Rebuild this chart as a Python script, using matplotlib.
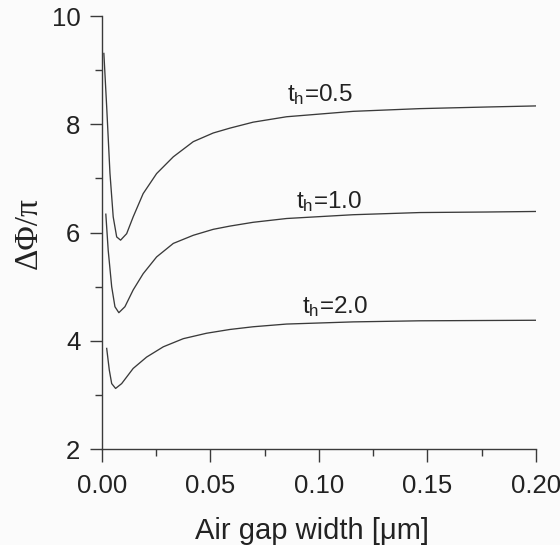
import numpy as np
import matplotlib.pyplot as plt
from matplotlib.ticker import MultipleLocator

plt.rcParams['font.family'] = ['Liberation Sans', 'DejaVu Sans']
plt.rcParams['mathtext.fontset'] = 'custom'
plt.rcParams['mathtext.rm'] = 'Liberation Sans'
plt.rcParams['mathtext.it'] = 'Liberation Sans'
plt.rcParams['xtick.direction'] = 'out'
plt.rcParams['ytick.direction'] = 'out'

# curve t_h = 0.5
x05 = [0.0009, 0.0022, 0.0037, 0.0052, 0.0068, 0.0086, 0.0114, 0.0144, 0.0190,
       0.0252, 0.0329, 0.0421, 0.0513, 0.0590, 0.0697, 0.0851, 0.1158, 0.1465,
       0.1773, 0.2]
y05 = [9.31, 8.32, 7.10, 6.29, 5.92, 5.86, 5.98, 6.29, 6.72,
       7.09, 7.40, 7.68, 7.84, 7.93, 8.04, 8.14, 8.24, 8.29,
       8.32, 8.34]
# curve t_h = 1.0
x10 = [0.0018, 0.0029, 0.0045, 0.0060, 0.0078, 0.0106, 0.0144, 0.0190, 0.0252,
       0.0329, 0.0421, 0.0513, 0.0590, 0.0697, 0.0851, 0.1158, 0.1465, 0.1773,
       0.2]
y10 = [6.34, 5.67, 5.00, 4.63, 4.52, 4.63, 4.94, 5.24, 5.55,
       5.80, 5.95, 6.06, 6.12, 6.19, 6.26, 6.33, 6.37, 6.38,
       6.39]
# curve t_h = 2.0
x20 = [0.0022, 0.0034, 0.0045, 0.0063, 0.0091, 0.0144, 0.0206, 0.0283, 0.0375,
       0.0482, 0.0590, 0.0697, 0.0851, 0.1158, 0.1465, 0.2]
y20 = [3.86, 3.46, 3.21, 3.12, 3.21, 3.49, 3.70, 3.89, 4.04,
       4.14, 4.21, 4.26, 4.31, 4.35, 4.37, 4.38]

labels = ['t$_\\mathregular{h}$=0.5', 't$_\\mathregular{h}$=1.0', 't$_\\mathregular{h}$=2.0']
label_pos = [(0.0853, 8.43), (0.0894, 6.45), (0.0922, 4.51)]

fig = plt.figure(figsize=(5.6, 5.45), dpi=100)
fig.patch.set_facecolor('#fbfbfb')
ax = fig.add_axes([0.182, 0.176, 0.775, 0.7945])
ax.set_facecolor('#fbfbfb')

col = '#3a3a3a'
for xs, ys in [(x05, y05), (x10, y10), (x20, y20)]:
    ax.plot(xs, ys, color=col, lw=0.95)

for lab, (tx, ty) in zip(labels, label_pos):
    ax.text(tx, ty, lab, fontsize=17.5, color='#222222', va='baseline', ha='left')

ax.set_xlim(0, 0.2)
ax.set_ylim(2, 10)
ax.xaxis.set_major_locator(MultipleLocator(0.05))
ax.xaxis.set_minor_locator(MultipleLocator(0.025))
ax.yaxis.set_major_locator(MultipleLocator(2))
ax.yaxis.set_minor_locator(MultipleLocator(1))
ax.xaxis.set_major_formatter(plt.FormatStrFormatter('%.2f'))
ax.spines['top'].set_visible(False)
ax.spines['right'].set_visible(False)
for s in ['left', 'bottom']:
    ax.spines[s].set_color(col)
    ax.spines[s].set_linewidth(1.0)
ax.tick_params(which='major', length=9, width=1.0, color=col, labelsize=18.5,
               labelcolor='#222222')
ax.tick_params(axis='x', which='major', pad=9)
ax.tick_params(axis='y', which='major', pad=6.5)
ax.tick_params(which='minor', length=5, width=1.0, color=col)

ax.set_xlabel('Air gap width [\u03bcm]', fontsize=21, color='#222222')
ax.set_ylabel('\u0394\u03a6/\u03c0', fontsize=24, color='#222222',
              family='Liberation Serif')
ax.xaxis.set_label_coords(0.485, -0.157)
ax.yaxis.set_label_coords(-0.135, 0.5)

fig.savefig('out.png', dpi=100, facecolor=fig.get_facecolor())
